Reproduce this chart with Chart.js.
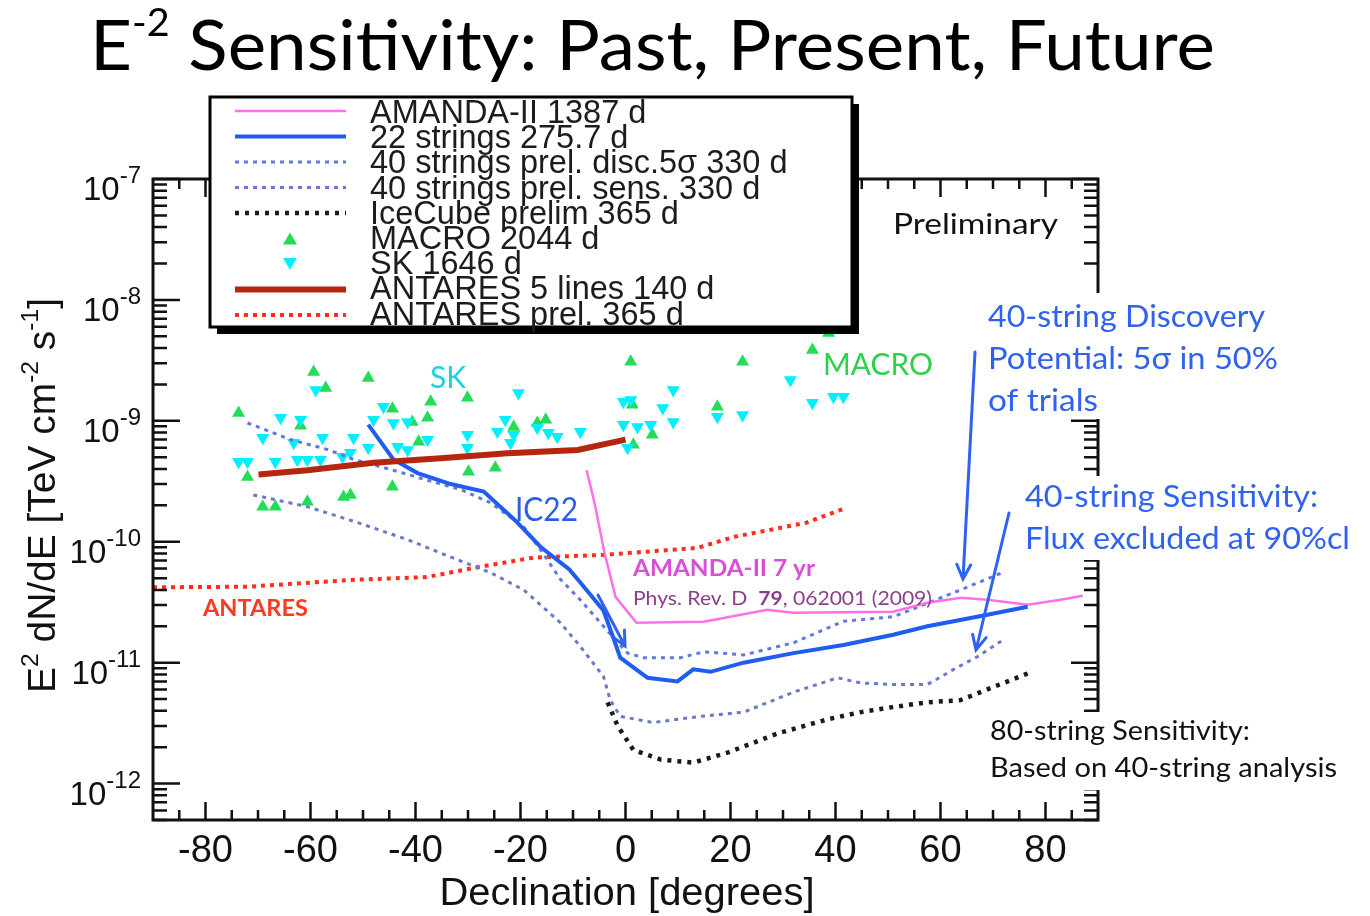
<!DOCTYPE html>
<html>
<head>
<meta charset="utf-8">
<script src="https://cdn.jsdelivr.net/npm/chart.js@4"></script>
<style>
html, body { margin: 0; padding: 0; background: #fff; }
canvas { display: block; }
</style>
</head>
<body>
<canvas id="chart" width="1370" height="916"></canvas>
<script>
// Declination [deg] / E^2 dN/dE [TeV cm^-2 s^-1]
const amandaDec = [-7.4, -5.9, -4.0, -1.9, 2.1, 14.9, 27.0, 32.0, 51.0, 57.5, 63.8, 68.9, 76.6, 82.9, 87.1];
const amandaFlux = [3.9e-10, 2.1e-10, 8.1e-11, 3.5e-11, 2.14e-11, 2.18e-11, 2.74e-11, 2.59e-11, 2.64e-11, 3.13e-11, 3.44e-11, 3.32e-11, 3.02e-11, 3.32e-11, 3.58e-11];

const ic22Dec = [-49.0, -44.2, -39.6, -33.3, -27.0, -21.0, -16.2, -10.7, -8.6, -4.2, -2.3, -1.0, 4.2, 9.9, 12.9, 16.2, 22.5, 32.0, 41.5, 51.0, 57.5, 67.0, 76.6];
const ic22Flux = [9.3e-10, 4.8e-10, 3.7e-10, 3.0e-10, 2.6e-10, 1.5e-10, 9.1e-11, 5.9e-11, 4.6e-11, 2.7e-11, 1.6e-11, 1.1e-11, 7.5e-12, 7.0e-12, 8.8e-12, 8.4e-12, 1.0e-11, 1.2e-11, 1.4e-11, 1.7e-11, 2.0e-11, 2.4e-11, 2.9e-11];

const disc40Dec = [-72.0, -63.8, -56.8, -51.8, -44.2, -38.5, -31.4, -25.7, -19.4, -16.2, -12.4, -8.6, -4.2, 0.4, 3.4, 10.5, 14.9, 22.5, 32.0, 41.5, 51.0, 57.5, 63.8, 72.0];
const disc40Flux = [9.6e-10, 7.0e-10, 5.8e-10, 4.8e-10, 3.9e-10, 3.3e-10, 2.7e-10, 2.1e-10, 1.33e-10, 8.6e-11, 4.9e-11, 3.3e-11, 2.0e-11, 1.2e-11, 1.1e-11, 1.1e-11, 1.23e-11, 1.16e-11, 1.46e-11, 2.2e-11, 2.4e-11, 3.1e-11, 4.0e-11, 5.6e-11];

const sens40Dec = [-70.9, -60.6, -51.0, -41.5, -32.0, -25.7, -19.4, -12.4, -8.6, -4.2, -2.9, -1.0, 5.3, 14.3, 22.5, 32.0, 40.4, 44.8, 51.0, 57.5, 62.5, 67.0, 72.0];
const sens40Flux = [2.44e-10, 1.95e-10, 1.44e-10, 1.04e-10, 7.1e-11, 5.55e-11, 4.0e-11, 2.14e-11, 1.36e-11, 7.7e-12, 4.9e-12, 3.6e-12, 3.2e-12, 3.6e-12, 3.9e-12, 5.7e-12, 7.5e-12, 6.8e-12, 6.6e-12, 6.6e-12, 8.8e-12, 1.12e-11, 1.55e-11];

const icecubeDec = [-3.4, -1.5, 1.5, 6.7, 12.9, 19.4, 29.0, 38.5, 44.8, 51.0, 57.5, 63.8, 70.1, 77.1];
const icecubeFlux = [4.7e-12, 3.0e-12, 1.9e-12, 1.58e-12, 1.49e-12, 1.8e-12, 2.6e-12, 3.4e-12, 3.9e-12, 4.3e-12, 4.7e-12, 4.9e-12, 6.3e-12, 8.3e-12];

const macroDec = [-59.4, -57.1, -49.0, -73.7, -44.4, -37.1, -30.1, -37.7, -40.6, -61.9, -16.8, -15.2, -21.3, -39.4, -72.0, -44.4, -29.9, -24.8, -53.7, -52.4, -60.6, -69.1, -66.7, 1.0, 1.3, 5.1, 1.5, 17.5, 22.3, 35.6, 38.7];
const macroFlux = [2.54e-9, 1.87e-9, 2.26e-9, 1.16e-9, 1.26e-9, 1.44e-9, 1.55e-9, 1.06e-9, 9.8e-10, 9.1e-10, 9.6e-10, 1.02e-9, 8.9e-10, 6.7e-10, 3.44e-10, 2.85e-10, 3.79e-10, 4.09e-10, 2.35e-10, 2.44e-10, 2.14e-10, 1.95e-10, 1.95e-10, 3.08e-9, 1.36e-9, 7.66e-10, 6.34e-10, 1.31e-9, 3.08e-9, 3.86e-9, 5.33e-9];

const skDec = [-59.0, -65.7, -61.9, -69.1, -57.7, -51.8, -63.2, -73.7, -72.0, -66.7, -62.5, -60.6, -58.1, -53.9, -52.4, -49.0, -48.0, -46.1, -44.2, -41.5, -43.4, -41.5, -37.7, -30.1, -30.1, -24.4, -22.9, -21.3, -20.4, -16.8, -21.9, -14.7, -13.0, -8.6, -0.4, 1.0, -0.4, 2.3, 4.8, 0.4, 7.1, 9.1, 9.1, 17.5, 22.3, 31.4, 35.6, 39.6, 41.5];
const skFlux = [1.80e-9, 1.06e-9, 1.02e-9, 7.24e-10, 7.24e-10, 7.24e-10, 6.58e-10, 4.58e-10, 4.58e-10, 4.58e-10, 4.77e-10, 4.77e-10, 4.77e-10, 5.04e-10, 5.44e-10, 5.98e-10, 1.02e-9, 1.31e-9, 9.6e-10, 9.8e-10, 6.10e-10, 5.75e-10, 6.97e-10, 7.66e-10, 5.98e-10, 8.11e-10, 1.02e-9, 7.66e-10, 1.70e-9, 8.75e-10, 6.58e-10, 7.96e-10, 7.38e-10, 8.11e-10, 1.44e-9, 1.49e-9, 9.3e-10, 8.9e-10, 9.3e-10, 5.98e-10, 1.28e-9, 1.80e-9, 9.8e-10, 1.08e-9, 1.12e-9, 2.18e-9, 1.41e-9, 1.58e-9, 1.58e-9];

const antaresDec = [-69.9, -60.6, -48.0, -35.2, -22.5, -9.1, 0.0];
const antaresFlux = [3.6e-10, 3.9e-10, 4.5e-10, 4.9e-10, 5.4e-10, 5.75e-10, 7.0e-10];

const antPrelDec = [-90.0, -72.0, -51.6, -37.9, -27.8, -17.5, -4.0, 13.7, 20.8, 34.5, 41.9];
const antPrelFlux = [4.2e-11, 4.25e-11, 4.85e-11, 5.1e-11, 6.2e-11, 7.4e-11, 7.8e-11, 8.9e-11, 1.1e-10, 1.44e-10, 1.9e-10];

// оси
const xTickLabels = [-80, -60, -40, -20, 0, 20, 40, 60, 80];
const yTickExponents = [-7, -8, -9, -10, -11, -12];

function pts(xs, ys) {
    return xs.map((x, i) => ({ x: x, y: ys[i] }));
}

// текст с надстрочными кусками, сжатый/растянутый до нужной ширины
function drawRich(ctx, segs, x, y, family, color, width, align) {
    ctx.save();
    ctx.fillStyle = color;
    ctx.textAlign = 'left';
    ctx.textBaseline = 'alphabetic';
    let total = 0;
    segs.forEach(s => {
        ctx.font = (s.weight || '') + ' ' + s.size + 'px ' + family;
        s.w = ctx.measureText(s.t).width;
        total += s.w;
    });
    const k = width ? width / total : 1;
    let x0 = x;
    if (align === 'center') x0 = x - total * k / 2;
    if (align === 'right') x0 = x - total * k;
    ctx.translate(x0, y);
    ctx.scale(k, 1);
    let cx = 0;
    segs.forEach(s => {
        ctx.font = (s.weight || '') + ' ' + s.size + 'px ' + family;
        ctx.fillText(s.t, cx, s.dy || 0);
        cx += s.w;
    });
    ctx.restore();
}

function text(ctx, t, x, y, size, family, color, width, weight) {
    drawRich(ctx, [{ t: t, size: size, weight: weight }], x, y, family, color, width, 'left');
}

function arrow(ctx, x1, y1, x2, y2, color) {
    const a = Math.atan2(y2 - y1, x2 - x1);
    const h = 16;
    ctx.save();
    ctx.strokeStyle = color;
    ctx.lineWidth = 3;
    ctx.lineCap = 'round';
    ctx.beginPath();
    ctx.moveTo(x1, y1);
    ctx.lineTo(x2, y2);
    ctx.moveTo(x2 - h * Math.cos(a - 0.45), y2 - h * Math.sin(a - 0.45));
    ctx.lineTo(x2, y2);
    ctx.lineTo(x2 - h * Math.cos(a + 0.45), y2 - h * Math.sin(a + 0.45));
    ctx.stroke();
    ctx.restore();
}

function whiteBox(ctx, x, y, w, h) {
    ctx.save();
    ctx.fillStyle = '#fff';
    ctx.fillRect(x, y, w, h);
    ctx.restore();
}

const SANS = '"Liberation Sans", Arial, sans-serif';
const CAL = 'Lato, "Open Sans", sans-serif';

const decorPlugin = {
    id: 'decor',
    beforeDraw(chart) {
        const ctx = chart.ctx;
        ctx.save();
        ctx.fillStyle = '#fff';
        ctx.fillRect(0, 0, chart.width, chart.height);
        ctx.restore();
    },
    afterDatasetsDraw(chart) {
        const ctx = chart.ctx;
        const a = chart.chartArea;
        const xs = chart.scales.x;
        const ys = chart.scales.y;

        // рамка и засечки внутрь
        ctx.save();
        ctx.strokeStyle = '#111';
        ctx.lineWidth = 3;
        ctx.strokeRect(a.left, a.top, a.right - a.left, a.bottom - a.top);
        ctx.lineWidth = 2.5;
        ctx.beginPath();
        for (let v = -85; v <= 85; v += 5) {
            const px = xs.getPixelForValue(v);
            const len = xTickLabels.includes(v) ? 18 : 10;
            ctx.moveTo(px, a.bottom); ctx.lineTo(px, a.bottom - len);
            ctx.moveTo(px, a.top); ctx.lineTo(px, a.top + len);
        }
        for (let e = -13; e <= -7; e++) {
            for (let m = 1; m <= 9; m++) {
                const v = m * Math.pow(10, e);
                if (v < ys.min * 0.999 || v > ys.max * 1.001) continue;
                const py = ys.getPixelForValue(v);
                const len = m === 1 ? 27 : 14;
                ctx.moveTo(a.left, py); ctx.lineTo(a.left + len, py);
                ctx.moveTo(a.right, py); ctx.lineTo(a.right - len, py);
            }
        }
        ctx.stroke();
        ctx.restore();

        // подписи осей
        ctx.save();
        ctx.fillStyle = '#111';
        ctx.font = '38px ' + SANS;
        ctx.textAlign = 'center';
        xTickLabels.forEach(v => ctx.fillText(String(v), xs.getPixelForValue(v), 862));
        ctx.restore();
        yTickExponents.forEach(e => {
            const py = ys.getPixelForValue(Math.pow(10, e));
            drawRich(ctx, [{ t: '10', size: 33 }, { t: String(e), size: 24, dy: -17 }], 141, py + 21, SANS, '#111', null, 'right');
        });
        drawRich(ctx, [{ t: 'Declination [degrees]', size: 39 }], 627, 905, SANS, '#111', 375, 'center');
        ctx.save();
        ctx.translate(55, 693);
        ctx.rotate(-Math.PI / 2);
        drawRich(ctx, [
            { t: 'E', size: 38 }, { t: '2', size: 24, dy: -17 },
            { t: ' dN/dE [TeV cm', size: 38 }, { t: '-2', size: 24, dy: -17 },
            { t: ' s', size: 38 }, { t: '-1', size: 24, dy: -17 }, { t: ']', size: 38 }
        ], 0, 0, SANS, '#111', 395, 'left');
        ctx.restore();

        // заголовок
        drawRich(ctx, [
            { t: 'E', size: 70 }, { t: '-2', size: 38, dy: -34 },
            { t: ' Sensitivity: Past, Present, Future', size: 70 }
        ], 90, 70, CAL, '#000', 1125, 'left');

        // надписи на графике
        text(ctx, 'Preliminary', 893, 234, 28, CAL, '#111', 165);
        text(ctx, 'SK', 430, 388, 31, CAL, '#19d3e3', 36);
        text(ctx, 'MACRO', 823, 375, 30, CAL, '#2fd04a', 110);
        text(ctx, 'IC22', 515, 521, 32, CAL, '#2a5de8', 63);
        text(ctx, 'ANTARES', 203, 616, 22, CAL, '#ff3a1c', 105, 'bold');
        text(ctx, 'AMANDA-II 7 yr', 633, 576, 23, CAL, '#d94fd6', 182, 'bold');
        drawRich(ctx, [
            { t: 'Phys. Rev. D  ', size: 19 }, { t: '79', size: 19, weight: 'bold' },
            { t: ', 062001 (2009)', size: 19 }
        ], 633, 605, CAL, '#8a3f8a', 299, 'left');

        // текстовые блоки справа на белом фоне, закрывают рамку
        const blue = '#2f62f0';
        whiteBox(ctx, 982, 293, 305, 126);
        whiteBox(ctx, 1019, 476, 340, 84);
        whiteBox(ctx, 984, 712, 360, 78);
        text(ctx, '40-string Discovery', 988, 327, 31, CAL, blue, 277);
        text(ctx, 'Potential: 5σ in 50%', 988, 369, 31, CAL, blue, 290);
        text(ctx, 'of trials', 988, 411, 31, CAL, blue, 110);
        text(ctx, '40-string Sensitivity:', 1025, 507, 31, CAL, blue, 293);
        text(ctx, 'Flux excluded at 90%cl', 1025, 549, 31, CAL, blue, 325);
        text(ctx, '80-string Sensitivity:', 990, 740, 26, CAL, '#111', 260);
        text(ctx, 'Based on 40-string analysis', 990, 777, 26, CAL, '#111', 347);

        arrow(ctx, 975, 352, 963, 579, blue);
        arrow(ctx, 1009, 513, 976, 650, blue);
        arrow(ctx, 598, 595, 625, 646, blue);

        // легенда
        const L = { x: 210, y: 97, w: 642, h: 230 };
        ctx.save();
        ctx.fillStyle = '#000';
        ctx.fillRect(L.x + 7, L.y + 7, L.w, L.h);
        ctx.fillStyle = '#fff';
        ctx.fillRect(L.x, L.y, L.w, L.h);
        ctx.strokeStyle = '#000';
        ctx.lineWidth = 3;
        ctx.strokeRect(L.x, L.y, L.w, L.h);
        ctx.restore();
        chart.data.datasets.forEach((ds, i) => {
            const ly = 111 + i * 25.5;
            ctx.save();
            if (ds.showLine === false) {
                ctx.fillStyle = ds.backgroundColor;
                ctx.beginPath();
                if (ds.rotation === 180) {
                    ctx.moveTo(283, ly - 6); ctx.lineTo(297, ly - 6); ctx.lineTo(290, ly + 6);
                } else {
                    ctx.moveTo(283, ly + 6); ctx.lineTo(297, ly + 6); ctx.lineTo(290, ly - 6);
                }
                ctx.closePath();
                ctx.fill();
            } else {
                ctx.strokeStyle = ds.borderColor;
                ctx.lineWidth = ds.borderWidth;
                ctx.setLineDash(ds.borderDash || []);
                ctx.beginPath();
                ctx.moveTo(235, ly);
                ctx.lineTo(346, ly);
                ctx.stroke();
            }
            ctx.restore();
            drawRich(ctx, [{ t: ds.label, size: 32.5 }], 370, 123 + i * 25.2, SANS, '#1c1c1c', null, 'left');
        });
    }
};

const ctx = document.getElementById('chart').getContext('2d');
const chart = new Chart(ctx, {
    type: 'line',
    data: {
        datasets: [
            { label: 'AMANDA-II 1387 d', data: pts(amandaDec, amandaFlux), borderColor: '#ff6fe8', borderWidth: 2.5, order: 3 },
            { label: '22 strings 275.7 d', data: pts(ic22Dec, ic22Flux), borderColor: '#1f5cf0', borderWidth: 4, order: 2 },
            { label: '40 strings prel. disc.5σ 330 d', data: pts(disc40Dec, disc40Flux), borderColor: '#6178e0', borderWidth: 3, borderDash: [4, 5], order: 3 },
            { label: '40 strings prel. sens. 330 d', data: pts(sens40Dec, sens40Flux), borderColor: '#6a78cc', borderWidth: 3, borderDash: [4, 5], order: 3 },
            { label: 'IceCube prelim 365 d', data: pts(icecubeDec, icecubeFlux), borderColor: '#1a1a1a', borderWidth: 4.5, borderDash: [4, 6], order: 3 },
            { label: 'MACRO 2044 d', data: pts(macroDec, macroFlux), showLine: false, pointStyle: 'triangle', pointRadius: 7.5, backgroundColor: '#22dd55', pointBorderWidth: 0, borderColor: '#22dd55', order: 10 },
            { label: 'SK 1646 d', data: pts(skDec, skFlux), showLine: false, pointStyle: 'triangle', rotation: 180, pointRadius: 7.5, backgroundColor: '#00f0ff', pointBorderWidth: 0, borderColor: '#00f0ff', order: 9 },
            { label: 'ANTARES 5 lines 140 d', data: pts(antaresDec, antaresFlux), borderColor: '#b5260e', borderWidth: 6, order: 1 },
            { label: 'ANTARES prel. 365 d', data: pts(antPrelDec, antPrelFlux), borderColor: '#ff2e1c', borderWidth: 4, borderDash: [4, 5], order: 3 }
        ]
    },
    options: {
        responsive: false,
        devicePixelRatio: 1,
        animation: false,
        layout: { padding: { left: 153, top: 179, right: 272, bottom: 96 } },
        elements: { point: { radius: 0 }, line: { tension: 0, fill: false } },
        plugins: { legend: { display: false }, tooltip: { enabled: false } },
        scales: {
            x: { type: 'linear', min: -90, max: 90, display: false },
            y: { type: 'logarithmic', min: 5e-13, max: 1e-7, display: false }
        }
    },
    plugins: [decorPlugin]
});
</script>
</body>
</html>
